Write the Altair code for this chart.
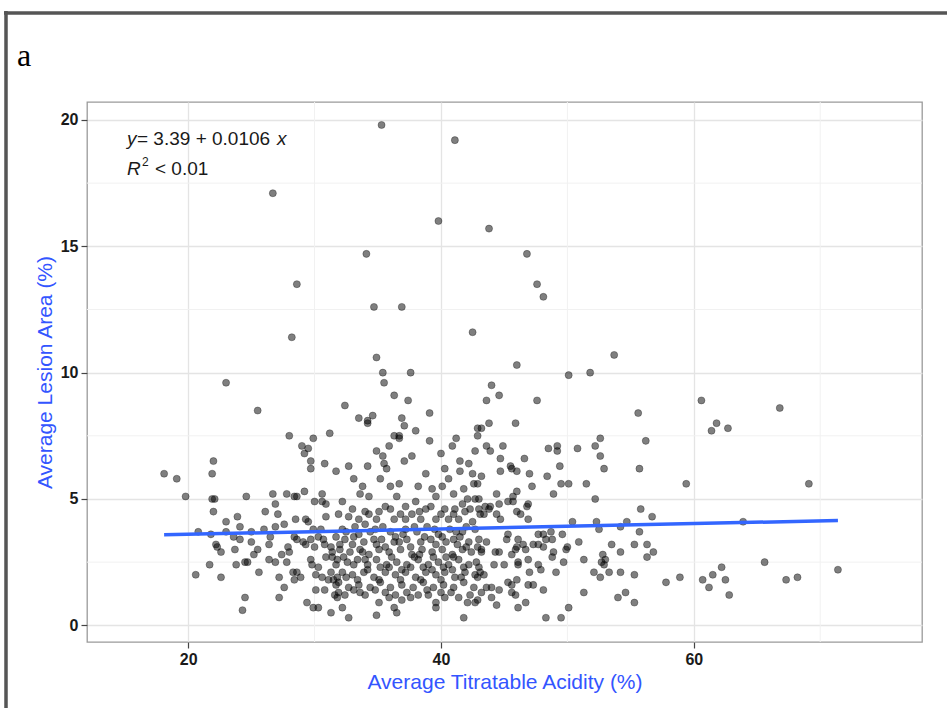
import altair as alt
import pandas as pd

# ---------------- data (Average Titratable Acidity %, Average Lesion Area %) ----------------
outliers = [
    (35.3, 19.8), (41.1, 19.2), (26.7, 17.1), (39.8, 16.0), (43.8, 15.7), (34.1, 14.7),
    (46.8, 14.7), (28.6, 13.5), (47.6, 13.5), (48.1, 13.0), (34.7, 12.6), (36.9, 12.6),
]
upper_left = [
    (28.2, 11.4), (23.0, 9.6), (25.5, 8.5), (28.0, 7.5), (29.9, 7.4), (31.2, 7.6), (29.0, 7.1),
    (29.5, 7.0), (29.2, 6.8), (22.0, 6.5), (29.7, 6.5), (30.8, 6.4), (29.7, 6.2),
]
upper_mid = [
    (42.5, 11.6), (34.9, 10.6), (35.4, 10.0), (37.6, 10.0), (35.5, 9.6), (36.3, 9.1), (37.4, 8.9),
    (32.4, 8.7), (39.1, 8.4), (33.5, 8.2), (34.6, 8.3), (34.2, 8.1), (34.2, 8.0), (36.9, 8.2),
    (37.1, 7.9), (38.0, 7.7), (36.3, 7.5), (36.7, 7.5), (36.7, 7.4), (39.1, 7.3), (34.9, 6.9),
    (35.9, 7.1), (35.4, 6.7), (37.7, 6.7), (37.1, 6.5), (35.5, 6.4), (32.7, 6.3), (34.2, 6.3),
    (40.0, 6.8), (40.9, 7.1), (41.2, 7.4), (42.9, 7.8), (42.9, 7.5), (42.7, 6.9), (41.5, 6.5),
    (42.2, 6.4), (40.3, 6.2),
]
upper_right = [
    (53.7, 10.7), (46.0, 10.3), (50.1, 9.9), (51.8, 10.0), (44.0, 9.5), (44.6, 9.1), (43.6, 8.9),
    (47.6, 8.9), (43.8, 8.0), (45.9, 8.0), (43.2, 7.8), (43.6, 7.1), (44.9, 7.1), (43.9, 6.9),
    (44.7, 6.6), (46.6, 6.6), (48.5, 7.0), (49.2, 7.1), (49.2, 6.9), (50.8, 7.0), (52.6, 7.4),
    (52.2, 7.1), (52.6, 6.7), (49.4, 6.3), (45.5, 6.3), (52.9, 6.2),
]
far_right = [
    (60.6, 8.9), (55.6, 8.4), (66.8, 8.6), (61.8, 8.0), (61.4, 7.7), (62.7, 7.8), (56.2, 7.3),
    (55.7, 6.2), (59.4, 5.6), (69.1, 5.6), (55.8, 4.6), (56.7, 4.3), (54.7, 4.1), (54.2, 3.9),
    (63.9, 4.1), (55.7, 3.7), (55.3, 3.2), (56.3, 3.2), (54.2, 2.9), (56.8, 2.9), (56.3, 2.7),
    (65.6, 2.5), (54.2, 2.1), (55.3, 2.0), (57.8, 1.7), (58.9, 1.9), (60.7, 1.8), (61.5, 2.0),
    (62.2, 2.3), (62.5, 1.8), (61.2, 1.5), (62.8, 1.2), (67.3, 1.8), (68.2, 1.9), (71.4, 2.2),
    (54.6, 1.3), (55.3, 0.9),
]
left_cloud = [
    (18.1, 6.0), (19.1, 5.8), (21.9, 6.0), (19.8, 5.1), (21.9, 5.0), (22.1, 5.0), (24.6, 5.1),
    (22.0, 4.5), (26.7, 5.2), (27.8, 5.2), (28.4, 5.1), (28.6, 5.1), (29.2, 5.3), (30.6, 5.2),
    (31.7, 6.1), (26.9, 4.8), (26.1, 4.5), (30.0, 4.9), (30.6, 4.9), (30.9, 4.8), (27.1, 4.4),
    (23.9, 4.3), (23.0, 4.1), (24.1, 3.9), (28.5, 4.2), (29.3, 4.2), (29.5, 4.1), (27.6, 4.0),
    (26.9, 3.9), (30.9, 4.3), (29.9, 3.8), (30.5, 3.8), (26.0, 3.8), (20.8, 3.7), (21.8, 3.6),
    (23.0, 3.7), (23.6, 3.5), (25.0, 3.7), (26.5, 3.5), (24.1, 3.4), (25.0, 3.3), (28.4, 3.5),
    (28.6, 3.4), (29.1, 3.3), (29.7, 3.4), (30.3, 3.5), (30.7, 3.4), (22.2, 3.2), (22.3, 3.1),
    (26.4, 3.2), (29.3, 3.2), (30.0, 3.1), (30.8, 3.2), (31.3, 3.1), (22.6, 2.9), (23.7, 3.0),
    (25.5, 3.0), (25.2, 2.8), (27.9, 3.1), (27.4, 2.8), (28.0, 2.9), (24.7, 2.5), (24.5, 2.5),
    (26.4, 2.6), (26.9, 2.5), (27.8, 2.5), (23.8, 2.4), (21.7, 2.4), (29.7, 2.6), (29.8, 2.4),
    (30.3, 2.3), (30.9, 2.7), (31.4, 2.7), (20.6, 2.0), (25.6, 2.1), (28.3, 2.1), (28.6, 2.1),
    (28.9, 1.9), (28.4, 1.8), (22.6, 1.9), (27.2, 1.9), (30.1, 2.0), (30.6, 1.9), (31.1, 1.8),
    (31.5, 1.8), (31.8, 1.9), (27.6, 1.5), (30.1, 1.4), (30.8, 1.4), (27.2, 1.1), (24.5, 1.1),
    (31.6, 1.2), (31.9, 1.3), (29.4, 0.9), (29.9, 0.7), (30.3, 0.7), (24.3, 0.6), (31.3, 0.5),
    (31.4, 2.9), (31.7, 2.4), (31.3, 2.1), (31.7, 1.6), (31.8, 1.1),
]
right_cloud = [
    (44.7, 6.1), (45.6, 6.2), (46.0, 6.1), (47.0, 6.0), (48.4, 5.9), (43.2, 5.9), (42.9, 5.6),
    (47.2, 5.5), (49.5, 5.6), (50.1, 5.6), (51.5, 5.6), (44.4, 5.2), (46.0, 5.3), (45.7, 5.1),
    (45.7, 4.9), (48.9, 5.2), (52.2, 5.0), (42.7, 5.0), (43.0, 5.0), (45.3, 4.9), (44.6, 4.8),
    (46.9, 4.8), (46.8, 4.7), (43.9, 4.7), (43.5, 4.7), (43.8, 4.6), (43.0, 4.6), (43.1, 4.4),
    (43.4, 4.4), (46.0, 4.5), (46.3, 4.4), (44.4, 4.4), (44.7, 4.2), (46.9, 4.2), (50.4, 4.1),
    (52.3, 4.1), (52.5, 3.8), (45.3, 3.6), (45.2, 3.4), (47.7, 3.6), (48.1, 3.6), (48.3, 3.4),
    (48.7, 3.7), (49.6, 3.6), (46.1, 3.4), (46.0, 3.1), (46.5, 3.2), (46.7, 3.0), (47.3, 3.2),
    (47.7, 3.2), (48.1, 3.1), (48.8, 3.4), (50.0, 3.1), (49.9, 3.0), (50.9, 3.3), (53.5, 3.2),
    (43.6, 3.3), (43.2, 3.0), (43.2, 2.9), (44.3, 2.9), (44.6, 2.9), (42.9, 3.1), (45.6, 2.8),
    (45.9, 3.0), (48.8, 2.7), (48.9, 2.9), (52.8, 2.8), (53.0, 2.6), (52.7, 2.5), (52.9, 2.4),
    (51.3, 2.6), (49.7, 2.5), (46.1, 2.5), (46.1, 2.4), (46.9, 2.6), (47.7, 2.4), (47.9, 2.2),
    (45.0, 2.4), (44.2, 2.4), (43.0, 2.3), (43.1, 2.1), (42.9, 1.9), (43.4, 2.0), (49.1, 2.1),
    (52.1, 2.1), (52.6, 1.9), (53.3, 2.1), (47.0, 2.1), (45.3, 1.7), (46.0, 1.8), (45.6, 1.6),
    (46.9, 1.6), (47.3, 1.6), (48.1, 1.4), (44.6, 1.4), (44.0, 1.5), (43.6, 1.5), (43.2, 1.3),
    (45.6, 1.3), (45.9, 1.2), (51.3, 1.3), (54.0, 1.1), (44.0, 1.1), (42.9, 1.0), (46.7, 0.9),
    (46.1, 0.7), (44.4, 0.8), (50.1, 0.7), (48.3, 0.3), (49.5, 0.3),
]
core_upper = [
    (35.7, 6.2), (38.8, 6.0), (41.5, 6.1), (42.5, 6.0), (33.1, 5.8), (33.8, 5.5), (35.2, 5.8),
    (36.0, 5.5), (36.7, 5.6), (38.2, 5.5), (39.3, 5.4), (40.1, 5.5), (40.6, 5.8), (39.6, 5.1),
    (41.0, 5.2), (41.8, 5.4), (42.6, 5.6), (42.1, 5.0), (33.6, 5.2), (34.3, 5.1), (32.2, 4.9),
    (36.5, 5.1), (35.6, 4.7), (37.2, 4.7), (37.7, 4.4), (38.8, 4.6), (36.8, 4.4), (38.0, 4.9),
    (40.3, 4.6), (41.1, 4.6), (41.7, 4.8), (42.3, 4.6), (31.9, 4.4), (32.7, 4.3), (33.5, 4.2),
    (34.3, 4.4), (34.9, 4.2), (36.3, 4.2), (38.4, 4.2), (39.6, 4.2), (40.6, 4.2), (41.4, 4.2),
    (42.5, 4.1), (33.0, 4.6), (34.0, 4.5), (35.1, 4.5), (36.0, 4.6), (37.2, 4.2), (38.3, 4.5),
    (39.2, 4.7), (40.0, 4.4), (41.0, 4.4), (41.9, 4.5),
]
core_mid = [
    (32.2, 3.8), (33.2, 3.9), (34.0, 4.0), (34.8, 3.8), (36.0, 3.7), (37.2, 3.8), (38.1, 3.7),
    (38.9, 3.9), (39.8, 3.6), (40.7, 3.8), (41.7, 3.7), (42.7, 3.8), (31.7, 3.5), (32.4, 3.4),
    (33.1, 3.5), (33.9, 3.3), (34.7, 3.4), (35.3, 3.4), (36.4, 3.5), (37.3, 3.4), (38.4, 3.3),
    (39.2, 3.4), (40.1, 3.5), (41.0, 3.4), (41.5, 3.5), (42.2, 3.3), (43.0, 3.4), (32.0, 3.0),
    (32.8, 2.9), (33.6, 3.0), (34.3, 2.8), (35.1, 3.0), (35.9, 2.9), (36.8, 3.0), (37.7, 2.8),
    (38.5, 3.0), (39.3, 2.9), (40.1, 3.0), (40.9, 2.8), (41.7, 3.0), (42.4, 2.9), (32.5, 3.7),
    (33.5, 3.6), (34.4, 3.7), (35.4, 3.9), (36.3, 3.3), (37.0, 3.6), (37.9, 3.9), (38.7, 3.5),
    (39.5, 3.8), (40.4, 3.3), (41.2, 3.7), (42.0, 3.9), (32.0, 3.2), (33.0, 3.2), (33.8, 2.9),
    (34.9, 3.2), (35.6, 3.1), (36.7, 3.3), (37.6, 3.1), (38.3, 2.8), (39.6, 3.2), (40.4, 2.7),
    (41.3, 3.2), (42.0, 3.1),
]
core_lower = [
    (31.8, 2.6), (32.6, 2.5), (33.4, 2.6), (34.2, 2.4), (34.9, 2.6), (35.7, 2.4), (36.5, 2.5),
    (37.3, 2.4), (38.2, 2.6), (39.0, 2.4), (39.8, 2.5), (40.6, 2.4), (41.4, 2.6), (42.2, 2.4),
    (42.8, 2.5), (32.2, 2.1), (33.0, 2.0), (33.9, 2.1), (34.7, 1.9), (35.6, 2.1), (36.4, 2.0),
    (37.2, 2.1), (38.0, 1.9), (38.8, 2.1), (39.6, 2.0), (40.3, 2.1), (41.1, 1.9), (41.9, 2.1),
    (42.7, 2.0), (31.9, 1.7), (32.7, 1.5), (33.5, 1.6), (34.4, 1.5), (35.2, 1.7), (36.0, 1.5),
    (36.9, 1.6), (37.8, 1.5), (38.6, 1.7), (39.4, 1.5), (40.2, 1.6), (41.0, 1.5), (41.8, 1.7),
    (42.6, 1.5), (32.4, 1.2), (33.6, 1.3), (35.1, 0.9), (35.9, 1.1), (36.9, 1.0), (37.6, 1.1),
    (39.0, 1.2), (39.6, 0.9), (40.3, 1.1), (41.4, 1.1), (32.2, 0.7), (32.7, 0.3), (34.9, 0.4),
    (36.3, 0.7), (36.5, 0.5), (39.6, 0.7), (41.8, 0.3), (42.1, 0.9), (42.7, 0.9), (32.3, 2.7),
    (33.1, 2.4), (34.0, 2.6), (35.2, 2.3), (36.1, 2.7), (36.9, 2.2), (37.9, 2.7), (38.6, 2.3),
    (39.4, 2.7), (40.2, 2.3), (41.0, 2.7), (41.8, 2.3), (32.5, 1.9), (33.4, 1.8), (34.2, 2.2),
    (35.1, 1.8), (35.9, 2.3), (36.8, 1.8), (37.6, 2.3), (38.4, 1.8), (39.3, 2.2), (40.0, 1.8),
    (40.9, 2.2), (41.6, 1.9), (33.1, 1.4), (34.0, 1.2), (34.8, 1.4), (35.6, 1.3), (36.4, 1.2),
    (37.3, 1.3), (38.2, 1.2), (38.9, 1.4), (40.0, 1.3), (40.8, 1.3), (42.3, 1.2),
]

x_ticks = [20, 40, 60]
y_ticks = [0, 5, 10, 15, 20]
minor_x = [30, 50, 70]
minor_y = [2.5, 7.5, 12.5, 17.5]
x_domain = [12.0, 78.05]
y_domain = [-0.66, 20.71]

fit_intercept = 3.39
fit_slope = 0.0106

x_title = "Average Titratable Acidity (%)"
y_title = "Average Lesion Area (%)"
panel_label = "a"

# ---------------- build tables ----------------
all_pairs = (outliers + upper_left + upper_mid + upper_right + far_right +
             left_cloud + right_cloud + core_upper + core_mid + core_lower)
pts = pd.DataFrame(all_pairs, columns=["acidity", "lesion"])

xs = [pts["acidity"].min(), pts["acidity"].max()]
fit_df = pd.DataFrame({"acidity": xs, "lesion": [fit_intercept + fit_slope * v for v in xs]})

FONT = "Liberation Sans"
BLUE = "#3355FF"

x_scale = alt.Scale(domain=x_domain, nice=False, zero=False)
y_scale = alt.Scale(domain=y_domain, nice=False, zero=False)

common = dict(grid=True, gridColor="#e4e4e4", gridWidth=1.3, domain=False,
              tickColor="#444444", tickSize=6, tickWidth=1.2,
              labelFont=FONT, labelFontWeight="bold", labelFontSize=16, labelColor="#1a1a1a",
              labelPadding=3, titleFont=FONT, titleFontSize=21, titleFontWeight="normal",
              titleColor=BLUE)
x_axis = alt.Axis(values=x_ticks, title=x_title, titlePadding=4, **common)
y_axis = alt.Axis(values=y_ticks, title=y_title, titlePadding=5, **common)

X = lambda: alt.X("acidity:Q", scale=x_scale, axis=x_axis)
Y = lambda: alt.Y("lesion:Q", scale=y_scale, axis=y_axis)

minor_v = alt.Chart(pd.DataFrame({"acidity": minor_x})).mark_rule(
    color="#f1f1f1", strokeWidth=1).encode(x=X())
minor_h = alt.Chart(pd.DataFrame({"lesion": minor_y})).mark_rule(
    color="#f1f1f1", strokeWidth=1).encode(y=Y())

points = alt.Chart(pts).mark_circle(
    size=50, color="black", fillOpacity=0.5, stroke="black", strokeWidth=1, strokeOpacity=0.3
).encode(x=X(), y=Y())

fit_line = alt.Chart(fit_df).mark_line(color="#3366FF", strokeWidth=3.5).encode(x=X(), y=Y())

one = pd.DataFrame({"k": [0]})
PL, PT = 87, 102  # plot origin inside the page


def label(text, px, py, size=19, style="normal", font=FONT, color="#1a1a1a"):
    return alt.Chart(one).mark_text(
        text=text, align="left", baseline="alphabetic", font=font, fontSize=size,
        fontStyle=style, color=color
    ).encode(x=alt.value(px - PL), y=alt.value(py - PT))


eq = [
    label("y", 127, 145, style="italic"),
    label("= 3.39 + 0.0106", 137, 145),
    label("x", 277, 145, style="italic"),
    label("R", 127, 175, style="italic"),
    label("2", 142, 166, size=12),
    label("< 0.01", 155, 175),
]

panel = label(panel_label, 17, 66, size=32, font="Liberation Serif", color="#000000")

frame_top = alt.Chart(one).mark_rule(color="#555555", strokeWidth=3.5).encode(
    x=alt.value(4 - PL), x2=alt.value(947 - PL), y=alt.value(13 - PT))
frame_left = alt.Chart(one).mark_rule(color="#555555", strokeWidth=3.5).encode(
    x=alt.value(6 - PL), y=alt.value(11 - PT), y2=alt.value(708 - PT))

chart = alt.layer(minor_v, minor_h, points, fit_line, *eq, panel, frame_top, frame_left).properties(
    width=835, height=540,
    padding={"left": 87, "top": 102, "right": 25, "bottom": 66},
    autosize=alt.AutoSizeParams(type="none"),
    background="white",
).configure_view(stroke="#9a9a9a", strokeWidth=1.3)

chart.save("out.html", embed_options={"renderer": "svg", "actions": False})
